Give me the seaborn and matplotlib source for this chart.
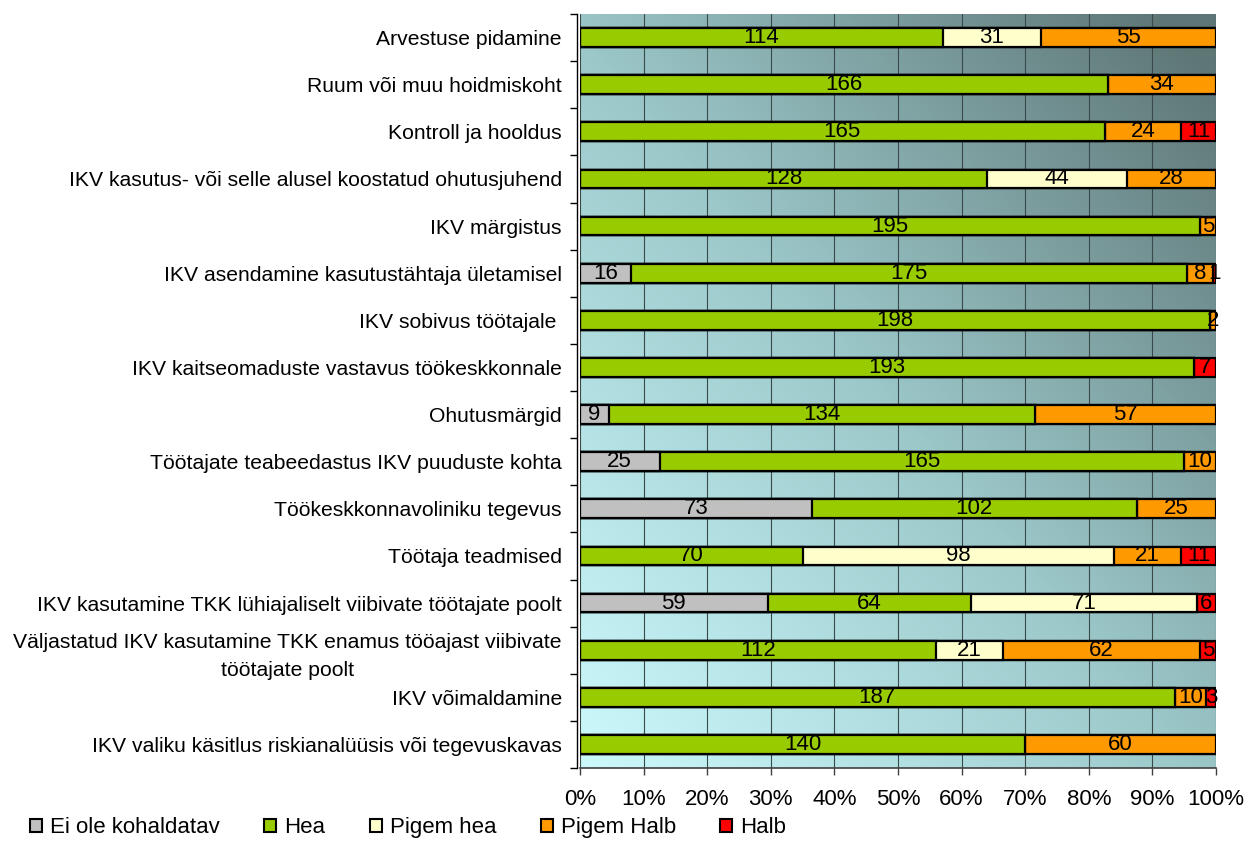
import numpy as np
import pandas as pd
import matplotlib
matplotlib.use("Agg")
import matplotlib.pyplot as plt
from matplotlib.patches import Patch
from matplotlib.colors import LinearSegmentedColormap
import seaborn as sns

categories = [
    "Arvestuse pidamine",
    "Ruum või muu hoidmiskoht",
    "Kontroll ja hooldus",
    "IKV kasutus- või selle alusel koostatud ohutusjuhend",
    "IKV märgistus",
    "IKV asendamine kasutustähtaja ületamisel",
    "IKV sobivus töötajale ",
    "IKV kaitseomaduste vastavus töökeskkonnale",
    "Ohutusmärgid",
    "Töötajate teabeedastus IKV puuduste kohta",
    "Töökeskkonnavoliniku tegevus",
    "Töötaja teadmised",
    "IKV kasutamine TKK lühiajaliselt viibivate töötajate poolt",
    "Väljastatud IKV kasutamine TKK enamus tööajast viibivate\ntöötajate poolt",
    "IKV võimaldamine",
    "IKV valiku käsitlus riskianalüüsis või tegevuskavas",
]
series_names = ["Ei ole kohaldatav", "Hea", "Pigem hea", "Pigem Halb", "Halb"]
ei_ole = [0, 0, 0, 0, 0, 16, 0, 0, 9, 25, 73, 0, 59, 0, 0, 0]
hea = [114, 166, 165, 128, 195, 175, 198, 193, 134, 165, 102, 70, 64, 112, 187, 140]
pigem_hea = [31, 0, 0, 44, 0, 0, 0, 0, 0, 0, 0, 98, 71, 21, 0, 0]
pigem_halb = [55, 34, 24, 28, 5, 8, 2, 0, 57, 10, 25, 21, 0, 62, 10, 60]
halb = [0, 0, 11, 0, 0, 1, 0, 7, 0, 0, 0, 11, 6, 5, 3, 0]
colors = ["#C0C0C0", "#99CC00", "#FFFFCC", "#FF9900", "#FF0000"]
xtick_labels = ["0%", "10%", "20%", "30%", "40%", "50%", "60%", "70%", "80%", "90%", "100%"]

df = pd.DataFrame({"cat": categories, series_names[0]: ei_ole, series_names[1]: hea,
                   series_names[2]: pigem_hea, series_names[3]: pigem_halb,
                   series_names[4]: halb})
vals = df[series_names].to_numpy(dtype=float)
totals = vals.sum(axis=1, keepdims=True)
pct = vals / totals * 100
cum = np.cumsum(pct, axis=1)

sns.set_theme(style="white")
plt.rcParams["font.family"] = ["Liberation Sans", "DejaVu Sans"]

fig = plt.figure(figsize=(12.46, 8.48), dpi=100)
ax = fig.add_axes([580 / 1246, 1 - 768 / 848, (1216 - 580) / 1246, (768 - 14) / 848])

# gradient background: light cyan bottom-left -> dark slate top-right
n = 256
xx, yy = np.meshgrid(np.linspace(0, 1, n), np.linspace(0, 1, n))
t = np.clip(0.52 * xx + 0.52 * (1 - yy), 0, 1)  # row 0 = top
cmap = LinearSegmentedColormap.from_list("bg", ["#CCFAFC", "#9CC8CA", "#5E7676"])
ax.imshow(t, cmap=cmap, extent=[0, 100, len(categories) - 0.5, -0.5],
          aspect="auto", zorder=0, origin="upper", interpolation="bilinear")

for j in range(len(series_names) - 1, -1, -1):
    d = pd.DataFrame({"cat": categories, "v": cum[:, j]})
    sns.barplot(data=d, x="v", y="cat", orient="h", color=colors[j], saturation=1,
                width=0.4, edgecolor="black", linewidth=1.6, ax=ax, zorder=3)

for i in range(len(categories)):
    for j in range(len(series_names)):
        v = vals[i, j]
        if v > 0:
            c = cum[i, j] - pct[i, j] / 2
            ax.text(c, i, f"{int(v)}", ha="center", va="center", fontsize=16,
                    color="black", zorder=5)

ax.set_xlim(0, 100)
ax.set_ylim(len(categories) - 0.5, -0.5)
ax.set_xticks(np.arange(0, 101, 10))
ax.set_xticklabels(xtick_labels)
ax.set_xlabel("")
ax.set_ylabel("")
ax.set_yticks(range(len(categories)))
ax.set_yticklabels(categories)
ax.set_yticks(np.arange(-0.5, len(categories), 1), minor=True)
ax.tick_params(axis="y", which="major", length=0, pad=11, labelsize=15.2, labelcolor="black")
ax.tick_params(axis="y", which="minor", length=5, color="black", width=1, left=True)
ax.tick_params(axis="x", which="major", length=5, color="#404040", width=1, bottom=True,
               pad=10, labelsize=16, labelcolor="black")
ax.grid(axis="x", color="#3a4a4a", linewidth=0.8, zorder=1)
ax.set_axisbelow(True)
for s in ["top", "right"]:
    ax.spines[s].set_visible(False)
ax.spines["left"].set_color("black")
ax.spines["left"].set_linewidth(1)
ax.spines["bottom"].set_color("#404040")
ax.spines["bottom"].set_linewidth(1.2)
ax.spines["left"].set_position(("outward", 2))

handles = [Patch(facecolor=c, edgecolor="black", linewidth=1.5) for c in colors]
leg = fig.legend(handles, series_names, loc="lower left", bbox_to_anchor=(0.008, -0.012),
                 ncol=5, frameon=False, fontsize=16, handlelength=0.55, handleheight=0.55,
                 handletextpad=0.35, columnspacing=2.0)
for txt in leg.get_texts():
    txt.set_color("black")

fig.canvas.draw()
for tick in ax.yaxis.get_major_ticks():
    tick.label1.set_multialignment("center")
    tick.label1.set_linespacing(1.6)

fig.savefig("out.png", dpi=100)
